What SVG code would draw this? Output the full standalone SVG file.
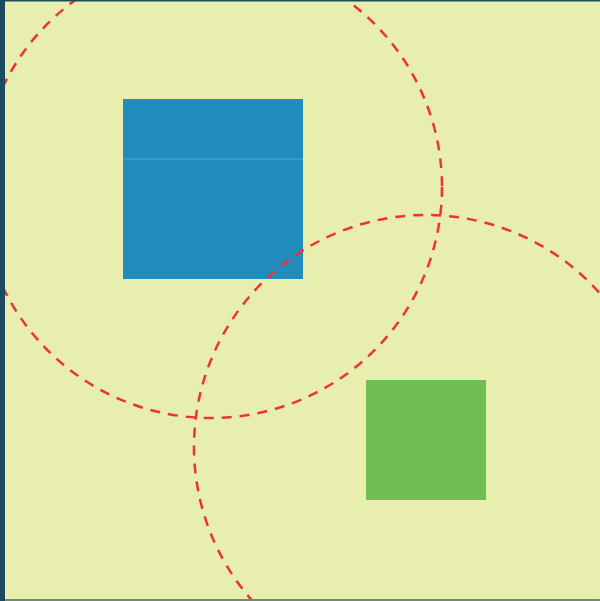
<svg xmlns="http://www.w3.org/2000/svg" width="600" height="601" viewBox="0 0 600 601">
<style>
.ring{fill:none;stroke:#ee3333;stroke-width:2.5;stroke-dasharray:10 8}
</style>
<rect x="0" y="0" width="600" height="601" fill="#e8eeae"/>
<g id="blue">
<rect x="123" y="99" width="180" height="180" fill="#228dbd"/>
<line x1="123" y1="159" x2="303" y2="159" stroke="#4fa5c6" stroke-width="1"/>
</g>
<g id="green">
<rect x="366" y="380" width="120" height="120" fill="#70bf55"/>
</g>
<g id="connectors">
<circle class="ring" cx="211" cy="187" r="231"/>
<circle class="ring" cx="426" cy="447" r="232"/>
</g>
<rect x="0" y="0" width="600" height="1.5" fill="#1c4a5e"/>
<rect x="0" y="599" width="600" height="2" fill="#6f8a78"/>
<rect x="0" y="0" width="5" height="601" fill="#1c4a5e"/>
</svg>
